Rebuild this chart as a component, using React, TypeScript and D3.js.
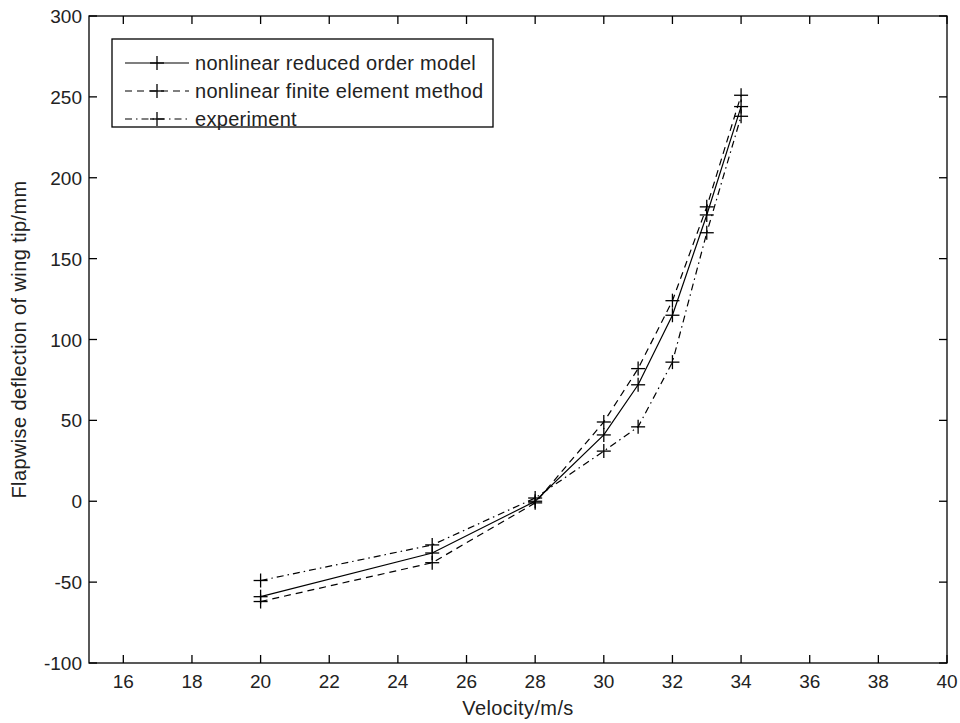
import { useEffect, useRef } from 'react';
import * as d3 from 'd3';

const velocity = [20, 25, 28, 30, 31, 32, 33, 34];
const romValues = [-59, -32, 0, 41, 72, 115, 177, 244];
const femValues = [-62, -38, -1, 49, 82, 124, 182, 251];
const expValues = [-49, -27, 2, 31, 46, 86, 166, 238];
const xTicks = [16, 18, 20, 22, 24, 26, 28, 30, 32, 34, 36, 38, 40];
const yTicks = [-100, -50, 0, 50, 100, 150, 200, 250, 300];
const seriesNames = ['nonlinear reduced order model', 'nonlinear finite element method', 'experiment'];

const App = () => {
    const ref = useRef<SVGSVGElement>(null);

    useEffect(() => {
        if (!ref.current) return;
        const svg = d3.select(ref.current);
        svg.selectAll('*').remove();

        const width = 960;
        const height = 723;
        const left = 89, right = 947, top = 16, bottom = 663;
        const font = 'Liberation Sans, Arial, sans-serif';
        const tickSize = 19;
        const labelSize = 20;

        const x = d3.scaleLinear().domain([15, 40]).range([left, right]);
        const y = d3.scaleLinear().domain([-100, 300]).range([bottom, top]);

        svg.attr('width', width).attr('height', height);
        svg.append('rect').attr('width', width).attr('height', height).attr('fill', '#fff');

        const tickLen = 8;
        const axes = svg.append('g').attr('stroke', '#000').attr('stroke-width', 1.3);
        axes.append('rect')
            .attr('x', left).attr('y', top)
            .attr('width', right - left).attr('height', bottom - top)
            .attr('fill', 'none');

        xTicks.forEach(t => {
            axes.append('line').attr('x1', x(t)).attr('x2', x(t)).attr('y1', bottom).attr('y2', bottom - tickLen);
            axes.append('line').attr('x1', x(t)).attr('x2', x(t)).attr('y1', top).attr('y2', top + tickLen);
        });
        yTicks.forEach(t => {
            axes.append('line').attr('x1', left).attr('x2', left + tickLen).attr('y1', y(t)).attr('y2', y(t));
            axes.append('line').attr('x1', right).attr('x2', right - tickLen).attr('y1', y(t)).attr('y2', y(t));
        });

        const labels = svg.append('g').attr('font-family', font).attr('font-size', tickSize).attr('fill', '#222');
        xTicks.forEach(t => {
            labels.append('text').attr('x', x(t)).attr('y', bottom + 25)
                .attr('text-anchor', 'middle').text(t);
        });
        yTicks.forEach(t => {
            labels.append('text').attr('x', left - 7).attr('y', y(t) + 7)
                .attr('text-anchor', 'end').text(t);
        });
        labels.append('text').attr('x', (left + right) / 2).attr('y', 715)
            .attr('font-size', labelSize).attr('letter-spacing', 0.4)
            .attr('text-anchor', 'middle').text('Velocity/m/s');
        labels.append('text')
            .attr('transform', `translate(26,${(top + bottom) / 2}) rotate(-90)`)
            .attr('font-size', labelSize).attr('letter-spacing', 0.4)
            .attr('text-anchor', 'middle').text('Flapwise deflection of wing tip/mm');

        const series = [
            { name: seriesNames[0], values: romValues, dash: null },
            { name: seriesNames[1], values: femValues, dash: '7,5' },
            { name: seriesNames[2], values: expValues, dash: '7,4,1.5,4' },
        ];

        const line = d3.line<number>()
            .x((_, i) => x(velocity[i]))
            .y(d => y(d));

        const m = 7;
        series.forEach(s => {
            svg.append('path')
                .attr('d', line(s.values))
                .attr('fill', 'none')
                .attr('stroke', '#000')
                .attr('stroke-width', 1.2)
                .attr('stroke-dasharray', s.dash);
            const g = svg.append('g').attr('stroke', '#000').attr('stroke-width', 1.3);
            s.values.forEach((v, i) => {
                const cx = x(velocity[i]), cy = y(v);
                g.append('line').attr('x1', cx - m).attr('x2', cx + m).attr('y1', cy).attr('y2', cy);
                g.append('line').attr('x1', cx).attr('x2', cx).attr('y1', cy - m).attr('y2', cy + m);
            });
        });

        // legend
        const lg = svg.append('g');
        lg.append('rect')
            .attr('x', 112).attr('y', 39).attr('width', 381).attr('height', 88)
            .attr('fill', '#fff').attr('stroke', '#000').attr('stroke-width', 1.3);
        series.forEach((s, i) => {
            const ly = 63 + i * 28;
            lg.append('line')
                .attr('x1', 125).attr('x2', 189).attr('y1', ly).attr('y2', ly)
                .attr('stroke', '#000').attr('stroke-width', 1.2)
                .attr('stroke-dasharray', s.dash);
            lg.append('line').attr('x1', 157 - m).attr('x2', 157 + m).attr('y1', ly).attr('y2', ly)
                .attr('stroke', '#000').attr('stroke-width', 1.3);
            lg.append('line').attr('x1', 157).attr('x2', 157).attr('y1', ly - m).attr('y2', ly + m)
                .attr('stroke', '#000').attr('stroke-width', 1.3);
            lg.append('text')
                .attr('x', 195).attr('y', ly + 7)
                .attr('font-family', font).attr('font-size', labelSize).attr('letter-spacing', 0.3)
                .attr('fill', '#222')
                .text(s.name);
        });
    }, []);

    return <svg ref={ref} style={{ position: 'absolute', left: 0, top: 0 }} />;
};

export default App;
